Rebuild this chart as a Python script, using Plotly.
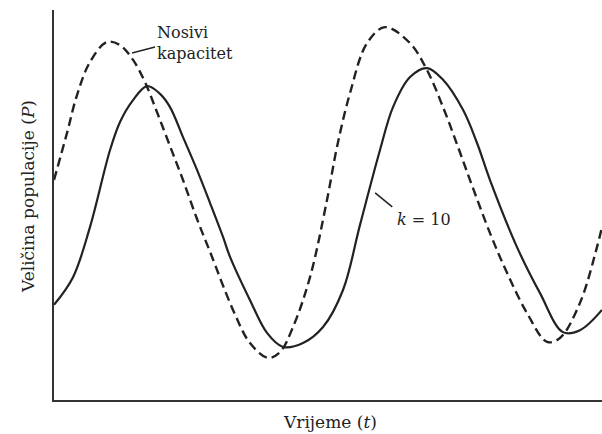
import plotly.graph_objects as go

# Carrying capacity (dashed)
t_cap = [0.72, 3.08, 4.89, 7.25, 10.33, 12.68, 15.04, 17.21, 19.38, 21.74, 24.09, 26.63, 28.99,
         33.15, 36.23, 39.49, 41.67, 44.02, 47.10, 50.18, 51.99, 54.35, 57.43, 60.69, 65.22,
         68.30, 71.20, 73.91, 76.09, 79.71, 82.79, 86.41, 90.04, 92.39, 96.01, 99.09, 100]
p_cap = [56.4, 68.5, 78.2, 86.7, 91.8, 91.0, 87.2, 81.5, 73.8, 65.1, 56.4, 46.4, 38.0,
         23.1, 14.6, 10.8, 12.3, 18.7, 31.5, 51.3, 64.9, 78.7, 91.5, 95.6, 91.5,
         84.6, 75.1, 64.9, 56.4, 42.8, 32.6, 22.3, 14.9, 15.9, 24.9, 39.2, 44.4]

# Population, k = 10 (solid)
t_pop = [0.72, 4.17, 7.25, 10.87, 12.68, 15.04, 17.57, 19.93, 21.74, 24.09, 26.63, 28.99, 31.34,
         32.61, 36.23, 39.31, 42.21, 45.83, 49.46, 53.08, 56.16, 59.78, 62.14, 65.22, 68.30,
         71.20, 74.82, 77.36, 79.71, 84.60, 88.77, 92.93, 96.01, 100]
p_pop = [24.4, 31.5, 44.4, 64.1, 71.3, 76.9, 80.5, 78.5, 75.1, 67.4, 59.0, 50.5, 41.8,
         36.7, 25.6, 17.2, 13.6, 14.6, 18.7, 28.2, 44.9, 64.1, 75.1, 82.8, 85.1,
         82.1, 74.4, 65.9, 56.4, 39.2, 27.4, 17.4, 17.9, 23.1]

FONT = "DejaVu Serif"
INK = "#222222"

fig = go.Figure()
fig.add_trace(go.Scatter(x=t_cap, y=p_cap, mode="lines",
                         line=dict(color=INK, width=2.4, dash="9px,5px", shape="spline", smoothing=1),
                         showlegend=False, hoverinfo="skip"))
fig.add_trace(go.Scatter(x=t_pop, y=p_pop, mode="lines",
                         line=dict(color=INK, width=2.2, shape="spline", smoothing=1),
                         showlegend=False, hoverinfo="skip"))

# leader lines
fig.add_shape(type="line", x0=14.86, y0=89.0, x1=19.02, y1=90.5, line=dict(color=INK, width=1.5))
fig.add_shape(type="line", x0=58.9, y0=53.1, x1=62.0, y1=49.5, line=dict(color=INK, width=1.5))

fig.add_annotation(x=19.0, y=97.2, xref="x", yref="y", text="Nosivi<br>kapacitet",
                   showarrow=False, xanchor="left", yanchor="top", align="left",
                   font=dict(family=FONT, size=16, color=INK))
fig.add_annotation(x=62.5, y=46.2, xref="x", yref="y", text="<i>k</i> = 10",
                   showarrow=False, xanchor="left", yanchor="middle",
                   font=dict(family=FONT, size=16, color=INK))

fig.add_annotation(x=-0.047, y=0.521, xref="paper", yref="paper",
                   text="Veličina populacije (<i>P</i>)", textangle=-90, showarrow=False,
                   xanchor="center", yanchor="middle",
                   font=dict(family=FONT, size=17, color=INK))
fig.add_annotation(x=0.504, y=-0.056, xref="paper", yref="paper",
                   text="Vrijeme (<i>t</i>)", showarrow=False,
                   xanchor="center", yanchor="middle",
                   font=dict(family=FONT, size=17, color=INK))

fig.update_xaxes(range=[0.72, 100], showline=True, linecolor="#333333", linewidth=1.6,
                 showticklabels=False, ticks="", showgrid=False, zeroline=False)
fig.update_yaxes(range=[0, 100], showline=True, linecolor="#333333", linewidth=1.6,
                 showticklabels=False, ticks="", showgrid=False, zeroline=False)

fig.update_layout(width=602, height=434, margin=dict(l=54, r=0, t=10, b=34),
                  paper_bgcolor="white", plot_bgcolor="white")

fig.write_html("out.html", config={"displayModeBar": False},
               post_script="document.body.style.margin='0';")
